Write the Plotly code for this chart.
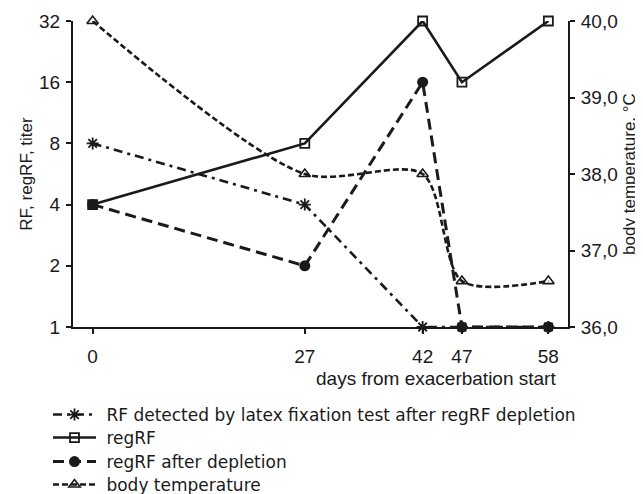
import plotly.graph_objects as go

days = [0, 27, 42, 47, 58]
rf_latex = [8, 4, 1, 1, 1]
reg_rf = [4, 8, 32, 16, 32]
reg_rf_depl = [4, 2, 16, 1, 1]
body_temp = [40.0, 38.0, 38.0, 36.6, 36.6]

titer_ticks = [1, 2, 4, 8, 16, 32]
temp_ticks = [36, 37, 38, 39, 40]
temp_labels = ["36,0", "37,0", "38,0", "39,0", "40,0"]

FONT = "Liberation Sans, Arial, sans-serif"
LEGFONT = "DejaVu Sans, Liberation Sans, sans-serif"
INK = "#1a1a1a"
NB = "\u00a0"

fig = go.Figure()
fig.add_trace(go.Scatter(
    x=days, y=rf_latex, name=NB + "RF detected by latex fixation test after regRF depletion",
    legend="legend",
    mode="lines+markers", line=dict(color=INK, width=2.6, dash="9px,5px,3px,5px"),
    marker=dict(symbol="asterisk-open", size=10, color=INK, line=dict(color=INK, width=1.8)),
    cliponaxis=False))
fig.add_trace(go.Scatter(
    x=days, y=reg_rf, name=NB + "regRF", legend="legend2",
    mode="lines+markers", line=dict(color=INK, width=2.6),
    marker=dict(symbol="square-open", size=9, color=INK, line=dict(color=INK, width=1.8)),
    cliponaxis=False))
fig.add_trace(go.Scatter(
    x=days, y=reg_rf_depl, name=NB + "regRF after depletion", legend="legend3",
    mode="lines+markers", line=dict(color=INK, width=3, dash="11px,6px"),
    marker=dict(symbol="circle", size=11, color=INK),
    cliponaxis=False))
fig.add_trace(go.Scatter(
    x=days, y=body_temp, name=NB + "body temperature", yaxis="y2", legend="legend4",
    mode="lines+markers", line=dict(color=INK, width=2.6, dash="6px,3px", shape="spline", smoothing=0.8),
    marker=dict(symbol="triangle-up-open", size=10, color=INK, line=dict(color=INK, width=1.6)),
    cliponaxis=False))

# reference pixel rows of legend entries (screen coordinates)
leg_rows = [415, 438, 462, 485]


def leg(row):
    return dict(x=(48 - 73) / 495, y=(327 - row) / 306, xanchor="left", yanchor="middle",
                font=dict(family=LEGFONT, size=17, color=INK), bgcolor="rgba(0,0,0,0)",
                itemwidth=43)


fig.update_layout(
    width=635, height=486,
    margin=dict(l=65, r=75, t=13, b=167, autoexpand=False),
    paper_bgcolor="white", plot_bgcolor="white",
    font=dict(family=FONT, size=19, color=INK),
    showlegend=True,
    legend=leg(leg_rows[0]), legend2=leg(leg_rows[1]),
    legend3=leg(leg_rows[2]), legend4=leg(leg_rows[3]),
    xaxis=dict(range=[-2.5, 60.5], tickvals=days, ticktext=[str(d) for d in days],
               showgrid=False, zeroline=False, showline=True, linecolor=INK, linewidth=2,
               ticks="outside", ticklen=5, tickcolor=INK, tickwidth=1.5,
               ticklabelstandoff=6, automargin=False),
    yaxis=dict(type="log", range=[0, 1.50515], tickvals=titer_ticks,
               ticktext=[str(t) for t in titer_ticks],
               showgrid=False, zeroline=False, showline=True, linecolor=INK, linewidth=2,
               ticks="outside", ticklen=5, tickcolor=INK, tickwidth=2, automargin=False,
               ticklabelstandoff=2,
               title=dict(text="RF, regRF, titer", standoff=2, font=dict(size=17))),
    yaxis2=dict(overlaying="y", side="right", range=[36, 40], tickvals=temp_ticks,
                ticktext=temp_labels, showgrid=False, zeroline=False,
                showline=True, linecolor=INK, linewidth=2, automargin=False,
                ticks="outside", ticklen=5, tickcolor=INK, tickwidth=2,
                ticklabelstandoff=2,
                title=dict(text="body temperature, °C", standoff=6, font=dict(size=17))),
    annotations=[dict(text="days from exacerbation start", xref="paper", yref="paper",
                      x=(558 - 73) / 495, y=(327 - 378) / 306, xanchor="right", yanchor="middle",
                      showarrow=False, font=dict(size=19, color=INK))],
)

fig.write_html("out.html")
